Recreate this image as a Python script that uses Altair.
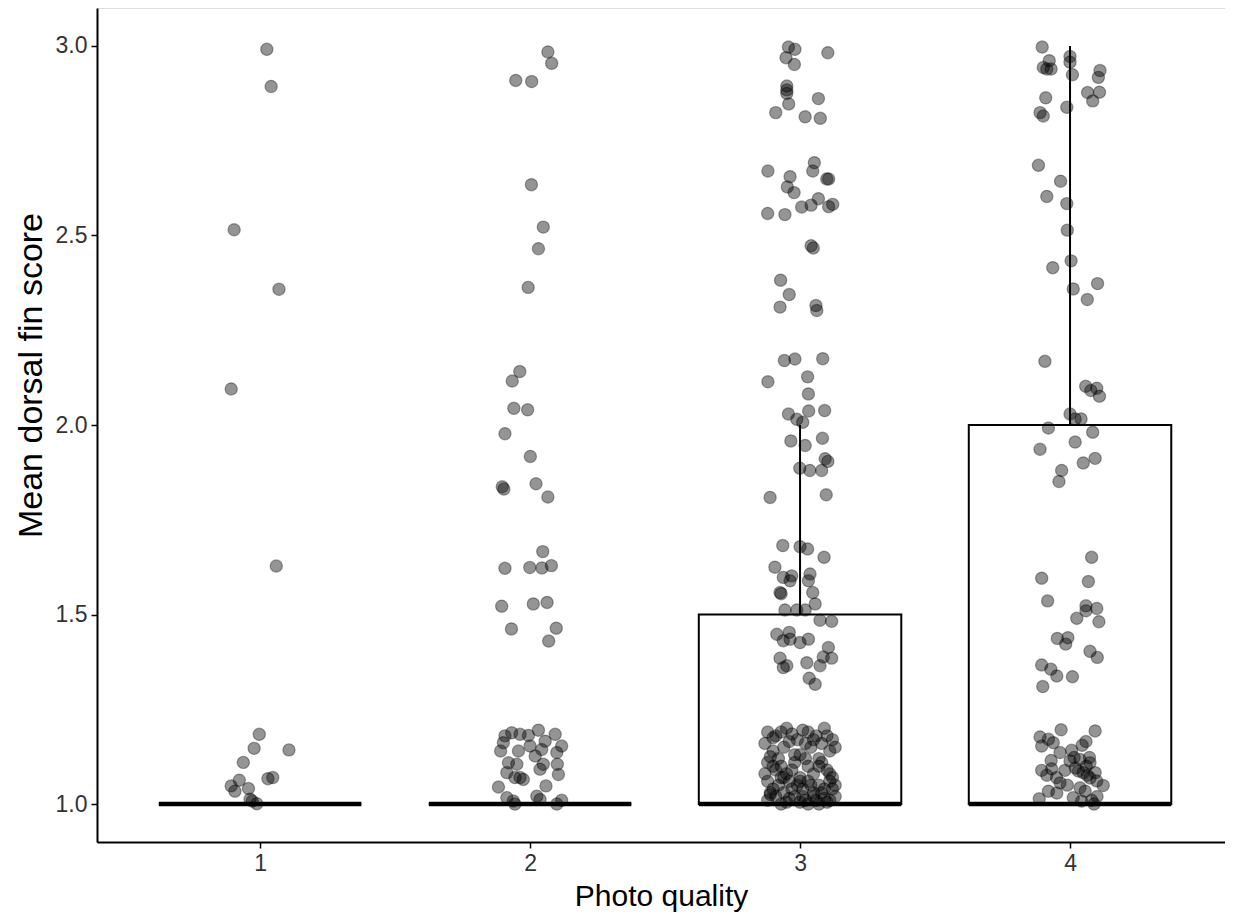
import altair as alt
import pandas as pd

# ---- jittered points (x = photo quality + jitter, y = mean dorsal fin score) ----
q1_x = [1.025, 1.041, 0.904, 1.070, 0.893, 1.060, 0.997, 0.978, 1.107, 0.938,
        0.923, 1.029, 1.047, 0.893, 0.907, 0.957, 0.963, 0.971, 0.988]
q1_y = [2.991, 2.893, 2.515, 2.358, 2.095, 1.628, 1.184, 1.147, 1.143, 1.110,
        1.063, 1.067, 1.070, 1.048, 1.034, 1.041, 1.013, 1.008, 1.001]

q2_x = [2.066, 2.080, 1.947, 2.006, 2.005, 2.049, 2.031, 1.993, 1.962, 1.934,
        1.940, 1.991, 1.907, 2.001, 1.897, 1.903, 2.022, 2.066, 2.047, 1.907,
        1.999, 2.044, 2.079, 1.895, 2.012, 2.063, 1.931, 2.097, 2.069,
        1.907, 1.932, 1.963, 1.994, 2.031, 2.056, 2.093, 1.901, 1.891, 1.957,
        2.000, 2.043, 2.099, 2.117, 2.019, 1.920, 1.951, 2.049, 2.037, 2.101,
        1.914, 1.944, 1.975, 2.105, 1.883, 1.963, 2.059, 1.914, 1.938, 2.025,
        2.037, 2.099, 2.117, 1.944]
q2_y = [2.984, 2.954, 2.909, 2.906, 2.634, 2.522, 2.465, 2.363, 2.141, 2.116,
        2.044, 2.040, 1.977, 1.917, 1.837, 1.831, 1.845, 1.810, 1.666, 1.622,
        1.624, 1.623, 1.629, 1.522, 1.528, 1.532, 1.462, 1.464, 1.430,
        1.180, 1.188, 1.184, 1.181, 1.195, 1.166, 1.184, 1.162, 1.140, 1.140,
        1.153, 1.144, 1.136, 1.153, 1.127, 1.109, 1.105, 1.105, 1.092, 1.105,
        1.083, 1.070, 1.065, 1.078, 1.045, 1.070, 1.048, 1.017, 1.008, 1.021,
        1.012, 1.000, 1.010, 1.000]

q3_x = [2.957, 2.981, 3.103, 2.948, 2.979, 2.951, 2.951, 2.951, 2.958, 3.068,
        2.910, 3.019, 3.075, 3.053, 3.047, 2.881, 2.963, 3.099, 3.106, 2.953,
        2.978, 3.068, 3.041, 3.006, 3.106, 3.121, 2.880, 2.944, 3.041, 3.049,
        2.928, 2.960, 2.926, 3.059, 3.062, 2.942, 2.981, 3.084, 2.881, 3.028,
        3.031, 2.957, 2.988, 3.010, 3.032, 3.091, 2.966, 3.019, 3.083, 3.093,
        3.103, 2.999, 3.036, 3.080, 2.889, 3.097, 2.936, 3.000, 3.028, 3.089,
        2.907, 2.938, 2.963, 2.969, 3.037, 3.031, 2.926, 2.930, 3.047, 2.944,
        2.988, 3.019, 3.056, 3.074, 3.117, 2.914, 2.960, 2.938, 2.963, 3.000,
        3.031, 2.926, 3.105, 3.086, 3.117, 3.025, 3.074, 2.938, 2.951, 3.034,
        3.056,
        2.88, 2.91, 2.95, 2.99, 3.03, 3.06, 3.09, 3.12, 2.90, 2.97, 3.01, 3.05, 3.10, 2.93,
        2.87, 2.90, 2.94, 2.98, 3.02, 3.07, 3.11, 3.13, 2.89, 2.96, 3.00, 3.04, 3.08, 2.92,
        2.88, 2.91, 2.93, 2.95, 2.98, 3.00, 3.03, 3.05, 3.08, 3.10, 3.12, 2.87, 2.90, 2.97,
        3.02, 3.07, 3.11, 2.94,
        2.88, 2.90, 2.92, 2.94, 2.96, 2.99, 3.01, 3.03, 3.05, 3.07, 3.09, 3.11, 3.13, 2.89,
        2.93, 2.97, 3.00, 3.04, 3.08, 3.12,
        2.88, 2.91, 2.93, 2.96, 2.98, 3.00, 3.02, 3.05, 3.07, 3.09, 3.11, 3.13, 2.89, 2.95,
        3.01, 3.06, 3.10, 3.03]
q3_y = [2.997, 2.991, 2.982, 2.969, 2.951, 2.894, 2.884, 2.875, 2.847, 2.861,
        2.824, 2.813, 2.809, 2.692, 2.670, 2.670, 2.655, 2.649, 2.649, 2.628,
        2.613, 2.597, 2.580, 2.575, 2.576, 2.582, 2.558, 2.555, 2.473, 2.467,
        2.382, 2.344, 2.311, 2.315, 2.302, 2.170, 2.174, 2.175, 2.114, 2.127,
        2.082, 2.029, 2.015, 2.007, 2.037, 2.038, 1.958, 1.946, 1.965, 1.911,
        1.904, 1.886, 1.880, 1.880, 1.809, 1.816, 1.682, 1.679, 1.673, 1.651,
        1.625, 1.598, 1.589, 1.602, 1.607, 1.589, 1.558, 1.555, 1.558, 1.512,
        1.512, 1.512, 1.528, 1.485, 1.482, 1.448, 1.453, 1.431, 1.435, 1.426,
        1.435, 1.385, 1.413, 1.388, 1.385, 1.373, 1.365, 1.360, 1.365, 1.332,
        1.316,
        1.19, 1.18, 1.20, 1.17, 1.19, 1.18, 1.20, 1.17, 1.175, 1.185, 1.195, 1.17, 1.18, 1.19,
        1.16, 1.14, 1.15, 1.13, 1.16, 1.12, 1.14, 1.15, 1.125, 1.165, 1.13, 1.15, 1.16, 1.12,
        1.11, 1.09, 1.10, 1.08, 1.11, 1.07, 1.10, 1.08, 1.11, 1.09, 1.07, 1.08, 1.10, 1.09,
        1.12, 1.10, 1.08, 1.07,
        1.06, 1.04, 1.05, 1.03, 1.06, 1.05, 1.04, 1.06, 1.03, 1.05, 1.04, 1.06, 1.05, 1.03,
        1.07, 1.04, 1.06, 1.05, 1.03, 1.04,
        1.01, 1.02, 1.00, 1.015, 1.02, 1.005, 1.01, 1.02, 1.00, 1.015, 1.01, 1.02, 1.025, 1.005,
        1.02, 1.01, 1.005, 1.00]

q4_x = [3.897, 3.923, 4.000, 4.000, 3.901, 3.914, 3.930, 4.009, 4.111, 4.105,
        4.065, 4.109, 4.084, 3.910, 3.988, 3.889, 3.901, 3.883, 3.965, 3.914,
        3.988, 3.990, 4.004, 3.936, 4.102, 4.012, 4.064, 3.907, 4.058, 4.077,
        4.099, 4.109, 4.000, 4.019, 4.041, 3.920, 4.084, 4.019, 3.889, 4.049,
        4.093, 3.969, 3.959, 4.080, 3.895, 4.068, 3.917, 4.059, 4.059, 4.099,
        4.025, 4.107, 3.953, 3.992, 3.984, 4.074, 4.101, 3.895, 3.929, 3.951,
        4.009, 3.899,
        3.967, 4.093, 3.889, 3.920, 3.938, 3.895, 4.059, 3.963, 4.006, 4.015,
        4.000, 4.037, 4.072, 4.074, 3.895, 3.914, 3.932, 3.981, 4.031, 4.049,
        4.064, 4.093, 4.099, 4.123, 3.920, 3.951, 3.963, 4.037, 4.056, 4.074,
        3.886, 4.012, 4.043, 4.080, 4.089, 3.950, 3.990, 4.020, 4.060, 4.100,
        3.930, 4.045]
q4_y = [2.997, 2.961, 2.972, 2.957, 2.943, 2.939, 2.939, 2.924, 2.935, 2.917,
        2.877, 2.878, 2.855, 2.863, 2.838, 2.824, 2.815, 2.685, 2.643, 2.603,
        2.584, 2.514, 2.433, 2.415, 2.373, 2.359, 2.331, 2.168, 2.102, 2.091,
        2.097, 2.076, 2.029, 2.016, 2.016, 1.992, 1.981, 1.955, 1.936, 1.900,
        1.912, 1.880, 1.851, 1.651, 1.596, 1.587, 1.536, 1.523, 1.510, 1.516,
        1.490, 1.481, 1.437, 1.439, 1.422, 1.403, 1.387, 1.367, 1.356, 1.338,
        1.336, 1.310,
        1.196, 1.193, 1.177, 1.171, 1.162, 1.153, 1.165, 1.136, 1.142, 1.123,
        1.114, 1.118, 1.123, 1.109, 1.089, 1.076, 1.093, 1.089, 1.087, 1.083,
        1.076, 1.083, 1.061, 1.049, 1.034, 1.029, 1.056, 1.043, 1.034, 1.069,
        1.014, 1.017, 1.008, 1.010, 1.000, 1.070, 1.050, 1.095, 1.100, 1.020,
        1.115, 1.155]

# ---- box summary per photo quality ----
quality = [1, 2, 3, 4]
box_lo = [1.0, 1.0, 1.0, 1.0]
box_hi = [1.0, 1.0, 1.5, 2.0]
box_med = [1.0, 1.0, 1.0, 1.0]
whisker_hi = [1.0, 1.0, 2.0, 3.0]
half_width = 0.375

pts = pd.DataFrame({
    "x": q1_x + q2_x + q3_x + q4_x,
    "y": q1_y + q2_y + q3_y + q4_y,
})
box = pd.DataFrame({
    "q": quality,
    "left": [q - half_width for q in quality],
    "right": [q + half_width for q in quality],
    "lo": box_lo,
    "hi": box_hi,
    "med": box_med,
    "whi": whisker_hi,
})

FONT = "Liberation Sans"
xscale = alt.Scale(domain=[0.396, 4.574], nice=False, zero=False)
yscale = alt.Scale(domain=[0.9, 3.1], nice=False, zero=False)

xaxis = alt.Axis(values=[1, 2, 3, 4], format="d", title="Photo quality",
                 grid=False, labelFontSize=23, labelColor="#333333",
                 titleFontSize=30, titleColor="black", titleFontWeight="normal",
                 titleY=54, titleBaseline="middle",
                 tickSize=6, tickColor="black", domainColor="black", domainWidth=2,
                 tickWidth=1.5, labelPadding=4, labelFont=FONT, titleFont=FONT)
yaxis = alt.Axis(values=[1.0, 1.5, 2.0, 2.5, 3.0], format=".1f", title="Mean dorsal fin score",
                 grid=False, labelFontSize=23, labelColor="#333333",
                 titleFontSize=34, titleColor="black", titleFontWeight="normal",
                 titleX=-66, titleY=367, titleBaseline="middle", titleAngle=270,
                 tickSize=6, tickColor="black", domainColor="black", domainWidth=2,
                 tickWidth=1.5, labelPadding=4, labelFont=FONT, titleFont=FONT)

base_box = alt.Chart(box)

whisk = base_box.mark_rule(color="black", strokeWidth=2).encode(
    x=alt.X("q:Q", scale=xscale, axis=xaxis),
    y=alt.Y("hi:Q", scale=yscale, axis=yaxis),
    y2="whi:Q",
)
rect = base_box.mark_rect(fill="white", stroke="black", strokeWidth=2).encode(
    x=alt.X("left:Q", scale=xscale),
    x2="right:Q",
    y=alt.Y("lo:Q", scale=yscale),
    y2="hi:Q",
)
med = base_box.mark_rule(color="black", strokeWidth=4.5).encode(
    x=alt.X("left:Q", scale=xscale),
    x2="right:Q",
    y=alt.Y("med:Q", scale=yscale),
)
points = alt.Chart(pts).mark_circle(
    size=150, color="black", fillOpacity=0.42, stroke="black", strokeOpacity=0.35, strokeWidth=1.2
).encode(
    x=alt.X("x:Q", scale=xscale),
    y=alt.Y("y:Q", scale=yscale),
)

chart = alt.layer(whisk, rect, med, points).properties(
    width=1128, height=834,
    autosize=alt.AutoSizeParams(type="none"),
    padding={"left": 89, "top": 0, "right": 0, "bottom": 73},
).configure_view(stroke=None).configure(background="white")

chart.save("out.html", embed_options={"renderer": "svg", "actions": False})
